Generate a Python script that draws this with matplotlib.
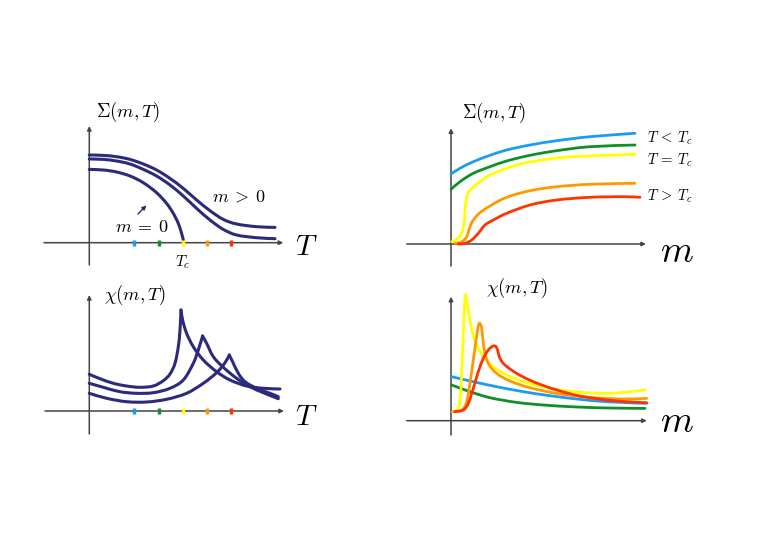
import matplotlib.pyplot as plt
import numpy as np
from matplotlib.path import Path
from matplotlib.patches import PathPatch

plt.rcParams['mathtext.fontset'] = 'cm'

W, H = 763, 539
navy = '#2c2a7c'
axis_col = '#444444'
ramp = ['#1a9cf5', '#0f8f2a', '#ffff00', '#ff9900', '#ff3300']

# sketch values, in pixels measured from each panel's origin
tick_x = [44.7, 69.3, 94, 118, 142]

# top left: Sigma(m, T) vs T
sig_a_x = [0, 14, 27.3, 40.7, 54, 67.3, 80.7, 94, 107.3, 120.7, 134, 147.3, 167.3, 185.7]
sig_a_y = [87.7, 87.3, 86, 83.3, 78.7, 72.7, 64.3, 54.3, 42.7, 32, 23.3, 18.7, 16, 15.3]
sig_b_x = sig_a_x
sig_b_y = [83.7, 83.3, 81.7, 78.7, 73.3, 66.7, 57.7, 46.7, 34.3, 22.7, 13.3, 7.7, 5, 4]
sig_c_x = [0, 14, 27.3, 40.7, 54, 67.3, 77.3, 84, 89, 92.3, 94]
sig_c_y = [73.3, 72.7, 70.7, 66.7, 60, 50, 39.3, 29.3, 19.3, 9.3, 2.7]

# bottom left: chi(m, T) vs T (cusp index marks the peak)
chi1_x = [0, 10.7, 24, 37.3, 50.7, 64, 74, 80.7, 85.7, 89, 90.7, 91.7, 93.3, 97.3, 104,
          114, 127.3, 140.7, 157.3, 174, 190.7]
chi1_y = [36.7, 32.3, 27.7, 25, 23.7, 25, 30.3, 37, 47.7, 64.3, 81, 101, 91, 77.7, 64.3,
          51, 39.3, 31, 25, 22.7, 22]
chi2_x = [0, 14, 30.7, 47.3, 64, 80.7, 94, 104, 109, 113.3, 117.3, 124, 134, 147.3, 160.7, 174, 189]
chi2_y = [27.7, 23.7, 19.3, 17.7, 18.3, 22.7, 31, 47.7, 61, 75, 67.7, 54.3, 43.7, 32.7, 24.3, 18.3, 12.3]
chi3_x = [0, 17.3, 37.3, 57.3, 77.3, 97.3, 114, 127.3, 135.7, 140, 143.3, 149, 155.7, 167.3, 180.7, 189]
chi3_y = [17.7, 12.7, 9.3, 9, 11.7, 17.7, 27.7, 38.3, 48.3, 56, 49.3, 37.7, 29.3, 22.7, 17.7, 14.3]
chi_cusp = [11, 9, 9]

# top right: Sigma(m, T) vs m, one curve per temperature
sm_x = [
    [0, 9, 22.3, 39, 55.7, 79, 105.7, 139, 184],
    [0, 9, 22.3, 39, 55.7, 79, 105.7, 139, 184],
    [0.7, 5.7, 10.7, 13, 14.3, 16.3, 20.7, 29, 39, 55.7, 72.3, 95.7, 122.3, 155.7, 184],
    [4, 10.7, 15.7, 19, 22.3, 29, 39, 55.7, 79, 105.7, 139, 184],
    [7.3, 14, 20.7, 27.3, 34, 42.3, 55.7, 79, 105.7, 139, 172.3, 189],
]
sm_y = [
    [70, 75.7, 82.3, 88.7, 94, 99, 103.3, 107.3, 110.7],
    [54.7, 62.3, 70.7, 77.3, 83, 88.7, 93.3, 97.3, 99],
    [2.3, 4.7, 10.7, 20.7, 37.3, 49, 55.7, 62.3, 69, 75.7, 80.7, 84.7, 87.3, 88.7, 89.7],
    [0.7, 2.3, 7.3, 17.3, 24, 31.3, 38, 46.7, 53.3, 57.3, 59.7, 60.7],
    [0, 0.7, 4, 10.7, 19, 24, 30.7, 39, 44, 46.7, 47.3, 46.7],
]
temp_labels = [r'$T\:<\:T_c$', r'$T\:=\:T_c$', r'$T\:>\:T_c$']
temp_label_y = [105.7, 83.3, 48]

# bottom right: chi(m, T) vs m
cm_x = [
    [0.7, 22.3, 45.7, 72.3, 99, 125.7, 155.7, 195.7],
    [0.7, 19, 39, 65.7, 92.3, 125.7, 159, 194],
    [1.7, 5.7, 8.3, 10, 11.3, 12.7, 14, 15.7, 18, 21.3, 25.7, 32.3, 42.3, 55.7, 72.3,
     95.7, 122.3, 152.3, 172.3, 194],
    [2.3, 10.7, 15.7, 19.7, 23, 26.3, 28.3, 30.7, 33, 37.3, 45.7, 59, 79, 105.7, 139, 172.3, 195.7],
    [4, 12.3, 17.3, 22.3, 27.3, 32.3, 37.3, 42.3, 45.7, 49, 54, 65.7, 82.3, 105.7, 132.3, 165.7, 195.7],
]
cm_y = [
    [44, 39, 34, 29, 25, 21.7, 19, 17.3],
    [35.7, 29, 23, 18.3, 15.7, 13.7, 12.7, 12.3],
    [9, 10.7, 15.7, 32.3, 62.3, 95.7, 124, 120.7, 105.7, 89, 75.7, 64, 54, 45.7, 39,
     33, 29, 27.3, 28.3, 30.7],
    [9, 10.7, 19, 42.3, 65.7, 89, 97.3, 92.3, 72.3, 57.3, 47.3, 39.7, 33, 27.3, 23.3, 21.7, 22.3],
    [9, 10.7, 17.3, 32.3, 49, 62.3, 70.7, 74.7, 73, 62.3, 55.7, 47.3, 39, 30.7, 24, 19.7, 18],
]

fig = plt.figure(figsize=(W / 100, H / 100), dpi=100)


def panel(ox, oy, L=60, R=270, U=150, D=40):
    ax = fig.add_axes([(ox - L) / W, (H - oy - D) / H, (L + R) / W, (U + D) / H])
    ax.set_xlim(-L, R)
    ax.set_ylim(-D, U)
    ax.axis('off')
    return ax


def draw_axes(ax, x0, x1, y0, y1):
    kw = dict(arrowstyle='-|>', color=axis_col, lw=1.1, mutation_scale=6, shrinkA=0, shrinkB=0)
    ax.annotate('', xy=(x1, 0), xytext=(x0, 0), arrowprops=kw)
    ax.annotate('', xy=(0, y1), xytext=(0, y0), arrowprops=kw)


def curve(ax, xs, ys, color, lw, breaks=()):
    # smooth Catmull-Rom stroke through the sketch points, sharp at breaks
    pts = np.column_stack([xs, ys])
    cuts = [0] + list(breaks) + [len(pts) - 1]
    for a, b in zip(cuts[:-1], cuts[1:]):
        seg = pts[a:b + 1]
        n = len(seg)
        verts = [seg[0]]
        codes = [Path.MOVETO]
        for i in range(n - 1):
            p0 = seg[max(i - 1, 0)]
            p1 = seg[i]
            p2 = seg[i + 1]
            p3 = seg[min(i + 2, n - 1)]
            verts += [p1 + (p2 - p0) / 6, p2 - (p3 - p1) / 6, p2]
            codes += [Path.CURVE4] * 3
        ax.add_patch(PathPatch(Path(verts, codes), fill=False, edgecolor=color, lw=lw,
                               capstyle='round', joinstyle='miter', zorder=3))


# top left
ax1 = panel(89.3, 242.7)
draw_axes(ax1, -45.3, 194, -22.3, 116.7)
for xs, ys in [(sig_a_x, sig_a_y), (sig_b_x, sig_b_y), (sig_c_x, sig_c_y)]:
    curve(ax1, xs, ys, navy, 2.2)
for x, c in zip(tick_x, ramp):
    ax1.plot([x, x], [-3, 3], color=c, lw=2.4, solid_capstyle='butt', zorder=4)
ax1.text(39, 131, r'$\Sigma(m,T)$', fontsize=13.5, ha='center', va='center')
ax1.text(149.7, 46.7, r'$m\:>\:0$', fontsize=13, ha='center', va='center')
ax1.text(52.7, 16, r'$m\:=\:0$', fontsize=13, ha='center', va='center')
ax1.annotate('', xy=(59, 39.3), xytext=(46.7, 26.7),
             arrowprops=dict(arrowstyle='-|>', color=navy, lw=1, mutation_scale=6))
ax1.text(93, -20, r'$T_c$', fontsize=11, ha='center', va='center')
ax1.text(217, -4, r'$T$', fontsize=21, ha='center', va='center')

# bottom left
ax2 = panel(89.3, 411)
draw_axes(ax2, -44.3, 194.7, -23, 116)
for xs, ys, k in zip([chi1_x, chi2_x, chi3_x], [chi1_y, chi2_y, chi3_y], chi_cusp):
    curve(ax2, xs, ys, navy, 2.2, breaks=[k])
for x, c in zip(tick_x, ramp):
    ax2.plot([x, x], [-3, 3], color=c, lw=2.4, solid_capstyle='butt', zorder=4)
ax2.text(45.7, 116, r'$\chi(m,T)$', fontsize=13.5, ha='center', va='center')
ax2.text(217, -5.7, r'$T$', fontsize=21, ha='center', va='center')

# top right
ax3 = panel(451, 244)
draw_axes(ax3, -44.3, 195, -22, 115.7)
for xs, ys, c in zip(sm_x, sm_y, ramp):
    curve(ax3, xs, ys, c, 2)
ax3.text(43, 130.7, r'$\Sigma(m,T)$', fontsize=13.5, ha='center', va='center')
for lab, y in zip(temp_labels, temp_label_y):
    ax3.text(195.7, y, lab, fontsize=10.5, ha='left', va='center')
ax3.text(225.7, -8, r'$m$', fontsize=27, ha='center', va='center')

# bottom right
ax4 = panel(451, 420.7)
draw_axes(ax4, -44.3, 195.7, -14.3, 124)
for xs, ys, c in zip(cm_x, cm_y, ramp):
    curve(ax4, xs, ys, c, 2)
ax4.text(66.3, 132.3, r'$\chi(m,T)$', fontsize=13.5, ha='center', va='center')
ax4.text(225.7, -1, r'$m$', fontsize=27, ha='center', va='center')

fig.savefig('out.png', dpi=100)
